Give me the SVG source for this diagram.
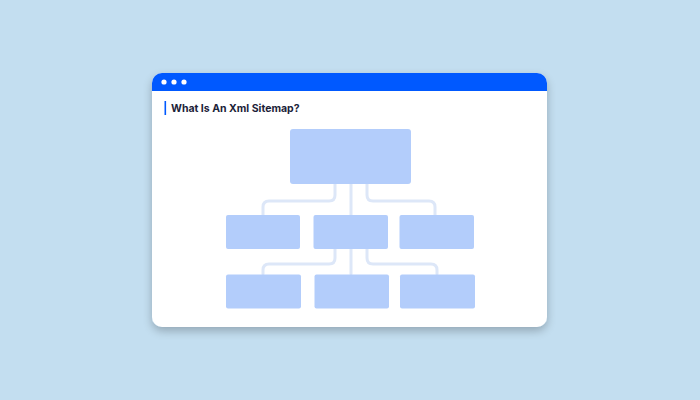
<svg xmlns="http://www.w3.org/2000/svg" width="700" height="400" viewBox="0 0 700 400">
<defs>
<filter id="sh" x="-10%" y="-10%" width="120%" height="130%">
<feGaussianBlur in="SourceAlpha" stdDeviation="5"/>
<feOffset dy="4"/>
<feComponentTransfer><feFuncA type="linear" slope="0.25"/></feComponentTransfer>
<feMerge><feMergeNode/><feMergeNode in="SourceGraphic"/></feMerge>
</filter>
<clipPath id="win"><rect x="152" y="73" width="395" height="254" rx="10"/></clipPath>
<style>
.node{fill:#b3cdfb}
.con{fill:none;stroke:#dde7f8;stroke-width:3;stroke-linecap:round;stroke-linejoin:round}
.dot{fill:#ffffff}
.title{font-family:"Inter","Noto Sans","DejaVu Sans",sans-serif;font-weight:700;font-size:10.5px;fill:#1b2238}
</style>
</defs>
<rect width="700" height="400" fill="#c3def0"/>
<g id="window">
<rect x="152" y="73" width="395" height="254" rx="10" fill="#ffffff" filter="url(#sh)"/>
<g clip-path="url(#win)">
<rect x="152" y="73" width="395" height="18" fill="#0059ff"/>
</g>
<circle class="dot" cx="164" cy="82" r="2.6"/>
<circle class="dot" cx="174" cy="82" r="2.6"/>
<circle class="dot" cx="184" cy="82" r="2.6"/>
<rect x="164.5" y="101" width="1.6" height="14" fill="#0059ff"/>
<text class="title" x="171" y="112">What Is An Xml Sitemap?</text>
</g>
<g id="connectors">
<path class="con" d="M335 184 V195 Q335 201 329 201 H269 Q263 201 263 207 V215"/>
<path class="con" d="M351 184 V215"/>
<path class="con" d="M367 184 V195 Q367 201 373 201 H429 Q435 201 435 207 V215"/>
<path class="con" d="M335 249 V258 Q335 264 329 264 H269 Q263 264 263 270 V274"/>
<path class="con" d="M351 249 V274"/>
<path class="con" d="M367 249 V258 Q367 264 373 264 H431 Q437 264 437 270 V274"/>
</g>
<g id="n-root"><rect class="node" x="290" y="129" width="121" height="55" rx="3"/></g>
<g id="n-m1"><rect class="node" x="226" y="215" width="74" height="34" rx="2"/></g>
<g id="n-m2"><rect class="node" x="313.5" y="215" width="74.5" height="34" rx="2"/></g>
<g id="n-m3"><rect class="node" x="399.5" y="215" width="74.5" height="34" rx="2"/></g>
<g id="n-b1"><rect class="node" x="226" y="274.5" width="75" height="34" rx="2"/></g>
<g id="n-b2"><rect class="node" x="314.5" y="274.5" width="74.5" height="34" rx="2"/></g>
<g id="n-b3"><rect class="node" x="400" y="274.5" width="75" height="34" rx="2"/></g>
</svg>
